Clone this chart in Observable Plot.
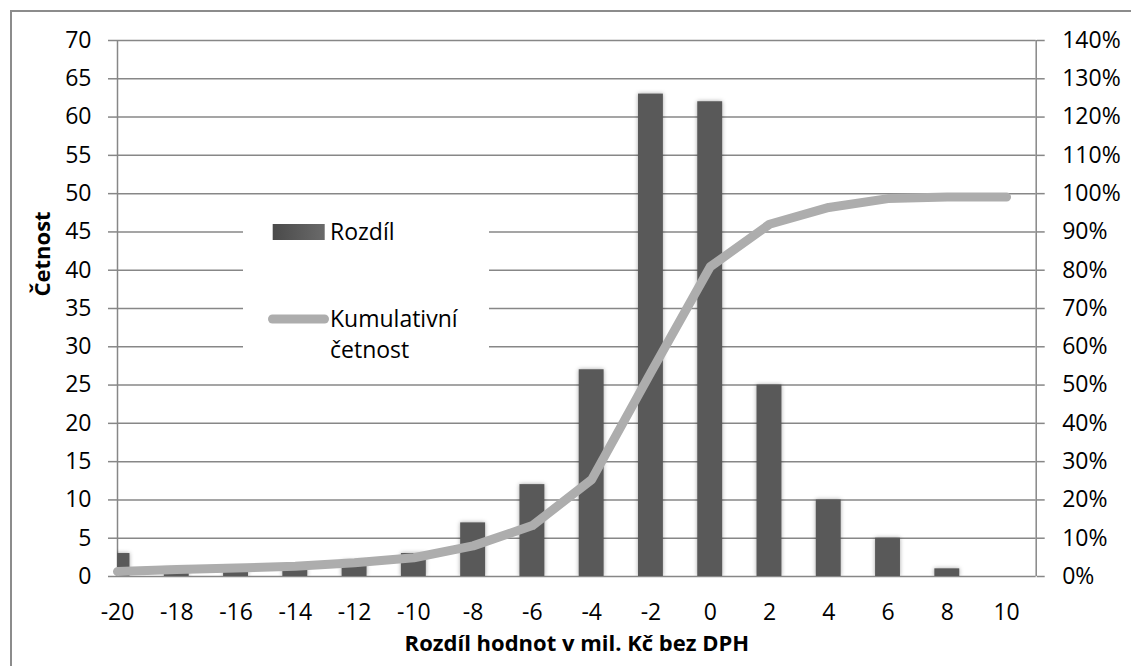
<!DOCTYPE html>
<html>
<head>
<meta charset="utf-8">
<script src="https://cdn.jsdelivr.net/npm/d3@7"></script>
<script src="https://cdn.jsdelivr.net/npm/@observablehq/plot@0.6"></script>
<style>
  html, body { margin: 0; padding: 0; background: #fff; }
  #chart { position: relative; width: 1131px; height: 666px; overflow: hidden; font-family: "Open Sans", sans-serif; }
  #border { position: absolute; left: 10px; top: 10px; width: 1140px; height: 680px; border: 2px solid #8c8c8c; box-sizing: border-box; }
  #chart > svg { position: absolute; left: 0; top: 0; }
  #legend { position: absolute; left: 243px; top: 198px; width: 246px; height: 174px; background: #fff; }
  #legend svg { display: block; }
</style>
</head>
<body>
<div id="chart"><div id="border"></div></div>
<script>
// Histogram bins (difference in millions CZK, without VAT)
const bins = [-20, -18, -16, -14, -12, -10, -8, -6, -4, -2, 0, 2, 4, 6, 8, 10];
// Frequency per bin
const counts = [3, 1, 1, 1, 2, 3, 7, 12, 27, 63, 62, 25, 10, 5, 1, 0];
// Cumulative frequency, percent
const cumulativePct = [1.3, 1.8, 2.2, 2.7, 3.6, 4.9, 8.0, 13.3, 25.3, 53.3, 80.9, 92.0, 96.4, 98.7, 99.1, 99.1];
// Axis ticks
const xTicks = d3.range(-20, 11, 2);
const yTicks = d3.range(0, 71, 5);          // left axis: Četnost
const pctPerCount = 2;                      // right axis: 0–140 % over the same 0–70 span

const rows = bins.map((bin, i) => ({bin, count: counts[i], pct: cumulativePct[i]}));

const gridColor = "#878787";
const barColor = "#595959";
const lineColor = "#adadad";
const halfBar = 0.42;

const chart = Plot.plot({
  width: 1131,
  height: 666,
  marginLeft: 117,
  marginRight: 95.3,
  marginTop: 40,
  marginBottom: 90,
  style: {fontFamily: "'Open Sans', sans-serif", fontSize: "23px", background: "transparent", overflow: "visible", color: "#000"},
  x: {domain: [-20, 11]},
  y: {domain: [0, 70]},
  marks: [
    // horizontal gridlines
    Plot.ruleY(yTicks, {stroke: gridColor, strokeWidth: 1.5}),
    // left and right axis lines at the edges of the x domain
    Plot.ruleX([-20, 11], {stroke: gridColor, strokeWidth: 1.5}),
    // frequency bars
    Plot.rectY(rows.filter(d => d.count > 0), {
      x1: d => d.bin - halfBar,
      x2: d => d.bin + halfBar,
      y: "count",
      fill: barColor,
      clip: true
    }),
    // cumulative frequency on the secondary (percent) axis
    Plot.line(rows, {
      x: "bin",
      y: d => d.pct / pctPerCount,
      stroke: lineColor,
      strokeWidth: 9,
      strokeLinecap: "round",
      strokeLinejoin: "round"
    }),
    Plot.axisY({anchor: "left", ticks: yTicks, tickSize: 9, tickPadding: 17, stroke: gridColor, strokeWidth: 1.5, label: null}),
    Plot.axisY({anchor: "right", ticks: yTicks, tickSize: 8, tickPadding: 18, stroke: gridColor, strokeWidth: 1.5,
      tickFormat: d => `${d * pctPerCount}%`, label: null}),
    Plot.axisX({anchor: "bottom", ticks: xTicks, tickSize: 0, tickPadding: 27, tickFormat: d => `${d}`.replace("−", "-"), label: null}),
    // axis titles
    Plot.text(["Četnost"], {frameAnchor: "left", dx: -75, dy: -12, rotate: -90, fontWeight: "bold", fontSize: 22, fill: "#000"}),
    Plot.text(["Rozdíl hodnot v mil. Kč bez DPH"], {frameAnchor: "bottom", dy: 74, fontWeight: "bold", fontSize: 22, fill: "#000"})
  ]
});

d3.select(chart).select('g[aria-label="rect"]').style("filter", "drop-shadow(0 0 2px rgba(0,0,0,0.35))");
document.getElementById("chart").appendChild(chart);

// Legend box (white panel over the gridlines)
const legend = d3.select("#chart").append("div").attr("id", "legend");
const ls = legend.append("svg").attr("width", 246).attr("height", 174)
  .style("font-family", "'Open Sans', sans-serif").style("font-size", "23px");
const grad = ls.append("defs").append("linearGradient").attr("id", "swatchGrad");
grad.append("stop").attr("offset", "0%").attr("stop-color", "#4a4a4a");
grad.append("stop").attr("offset", "100%").attr("stop-color", "#6a6a6a");
ls.append("rect").attr("x", 29.7).attr("y", 26).attr("width", 52).attr("height", 16).attr("fill", "url(#swatchGrad)");
ls.append("text").attr("x", 87).attr("y", 42).text("Rozdíl");
ls.append("line").attr("x1", 29.5).attr("x2", 81.5).attr("y1", 121).attr("y2", 121)
  .attr("stroke", lineColor).attr("stroke-width", 9).attr("stroke-linecap", "round");
ls.append("text").attr("x", 87).attr("y", 128.7).text("Kumulativní");
ls.append("text").attr("x", 87).attr("y", 160.3).text("četnost");
</script>
</body>
</html>
